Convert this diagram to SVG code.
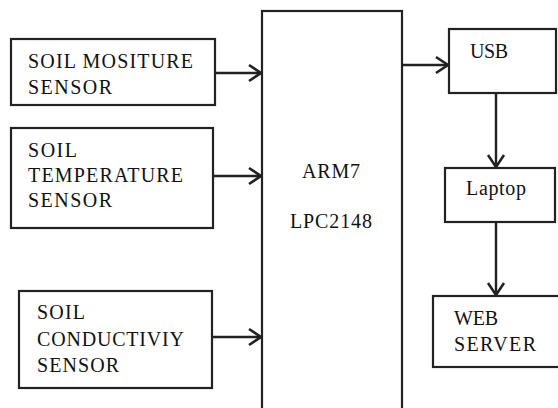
<svg xmlns="http://www.w3.org/2000/svg" width="558" height="408" viewBox="0 0 558 408">
<style>
.box{fill:#fff;stroke:#222;stroke-width:2.2}
.t{font-family:"Liberation Serif","Times New Roman",serif;font-size:20px;fill:#111}
.c{stroke:#222;stroke-width:2.4;fill:none}
</style>
<defs>
<marker id="ah" markerUnits="userSpaceOnUse" markerWidth="16" markerHeight="20" viewBox="0 0 16 20" refX="14" refY="10" orient="auto">
<path d="M2,2 L14,10 L2,18" fill="none" stroke="#222" stroke-width="2.6"/>
</marker>
</defs>
<rect width="558" height="408" fill="#fff"/>
<g id="connectors">
<line class="c" x1="215" y1="73" x2="261" y2="73" marker-end="url(#ah)"/>
<line class="c" x1="213" y1="176" x2="261" y2="176" marker-end="url(#ah)"/>
<line class="c" x1="212" y1="337" x2="261" y2="337" marker-end="url(#ah)"/>
<line class="c" x1="402" y1="65" x2="448" y2="65" marker-end="url(#ah)"/>
<line class="c" x1="496" y1="93" x2="496" y2="167" marker-end="url(#ah)"/>
<line class="c" x1="496" y1="222" x2="496" y2="295" marker-end="url(#ah)"/>
</g>
<g id="soil-moisture">
<rect class="box" x="11" y="39" width="204" height="66"/>
<text class="t" x="28" y="68" textLength="165" lengthAdjust="spacing">SOIL MOSITURE</text>
<text class="t" x="28" y="94" textLength="84" lengthAdjust="spacing">SENSOR</text>
</g>
<g id="soil-temperature">
<rect class="box" x="11" y="128" width="202" height="100"/>
<text class="t" x="28" y="157" textLength="49" lengthAdjust="spacing">SOIL</text>
<text class="t" x="28" y="182" textLength="155" lengthAdjust="spacing">TEMPERATURE</text>
<text class="t" x="28" y="207" textLength="84" lengthAdjust="spacing">SENSOR</text>
</g>
<g id="soil-conductivity">
<rect class="box" x="19" y="291" width="193" height="97"/>
<text class="t" x="37" y="319" textLength="48" lengthAdjust="spacing">SOIL</text>
<text class="t" x="37" y="346" textLength="147" lengthAdjust="spacing">CONDUCTIVIY</text>
<text class="t" x="37" y="372" textLength="82" lengthAdjust="spacing">SENSOR</text>
</g>
<g id="arm7">
<rect class="box" x="262" y="11" width="140" height="410"/>
<text class="t" x="302" y="178" textLength="58" lengthAdjust="spacing">ARM7</text>
<text class="t" x="290" y="228" textLength="82" lengthAdjust="spacing">LPC2148</text>
</g>
<g id="usb">
<rect class="box" x="449" y="29" width="107" height="64"/>
<text class="t" x="470" y="58" textLength="38" lengthAdjust="spacing">USB</text>
</g>
<g id="laptop">
<rect class="box" x="445" y="168" width="110" height="54"/>
<text class="t" x="466" y="195" textLength="60" lengthAdjust="spacing">Laptop</text>
</g>
<g id="web-server">
<rect class="box" x="433" y="296" width="140" height="71"/>
<text class="t" x="454" y="325" textLength="44" lengthAdjust="spacing">WEB</text>
<text class="t" x="454" y="351" textLength="82" lengthAdjust="spacing">SERVER</text>
</g>
</svg>
